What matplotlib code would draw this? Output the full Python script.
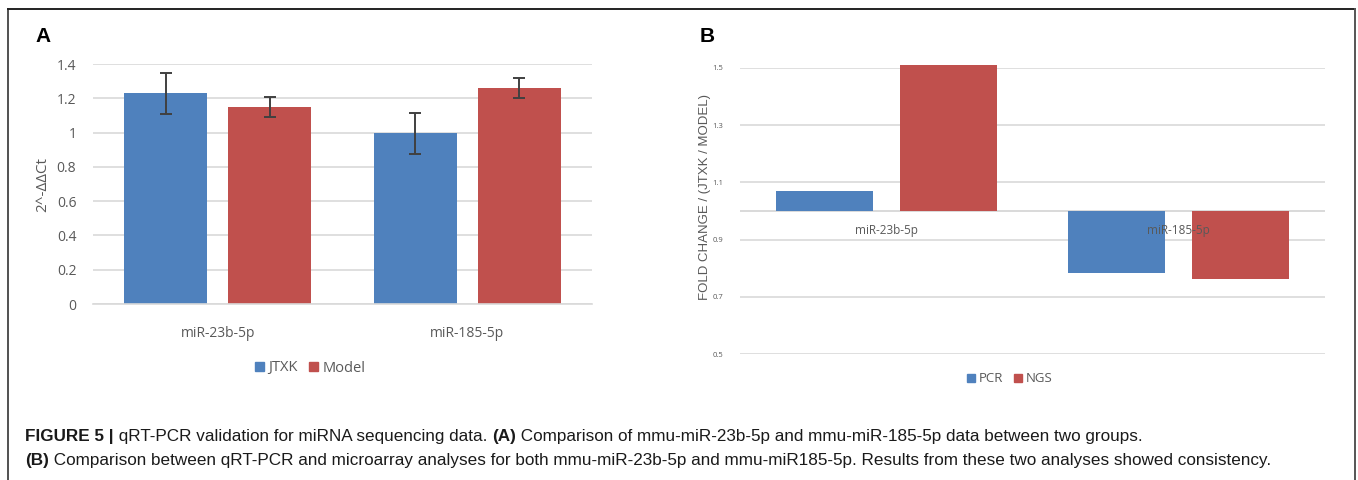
import matplotlib
matplotlib.use("Agg")
import matplotlib.pyplot as plt
from matplotlib.patches import Patch
from matplotlib.lines import Line2D
import numpy as np

# данные
mirnas = ["miR-23b-5p", "miR-185-5p"]
jtxk = [1.23, 0.995]
jtxk_err = [0.12, 0.12]
model = [1.15, 1.26]
model_err = [0.06, 0.06]
a_ticks = [0, 0.2, 0.4, 0.6, 0.8, 1, 1.2, 1.4]
a_ticklabels = ["0", "0.2", "0.4", "0.6", "0.8", "1", "1.2", "1.4"]

pcr = [1.07, 0.785]
ngs = [1.51, 0.761]
b_ticks = [0.5, 0.7, 0.9, 1.1, 1.3, 1.5]

BLUE = "#4F81BD"
RED = "#C0504D"
GRID = "#D9D9D9"
TXT = "#595959"

plt.rcParams["font.family"] = ["Open Sans", "DejaVu Sans"]

fig = plt.figure(figsize=(13.58, 4.8), dpi=100)

x = np.arange(len(mirnas))

# ---- панель A
ax = fig.add_axes([93 / 1358, 1 - 304 / 480, 499 / 1358, 240 / 480])
ax.bar(x - 0.208, jtxk, 0.332, color=BLUE, zorder=2)
ax.bar(x + 0.208, model, 0.332, color=RED, zorder=2)
ax.errorbar(x - 0.208, jtxk, yerr=jtxk_err, fmt="none", ecolor="#404040",
            elinewidth=1.4, capsize=4, capthick=1.4, zorder=3)
ax.errorbar(x + 0.208, model, yerr=model_err, fmt="none", ecolor="#404040",
            elinewidth=1.4, capsize=4, capthick=1.4, zorder=3)
ax.set_xlim(-0.5, 1.5)
ax.set_ylim(0, 1.4)
ax.set_yticks(a_ticks)
ax.set_yticklabels(a_ticklabels)
ax.yaxis.grid(True, color=GRID, linewidth=1.2, zorder=0)
ax.set_axisbelow(True)
for s in ["top", "right", "left"]:
    ax.spines[s].set_visible(False)
ax.spines["bottom"].set_color(GRID)
ax.spines["bottom"].set_linewidth(1.2)
ax.set_xticks(x)
ax.set_xticklabels(mirnas)
ax.tick_params(length=0, labelcolor=TXT, labelsize=10)
ax.tick_params(axis="x", pad=16)
ax.tick_params(axis="y", pad=12)
ax.set_ylabel("2^-ΔΔCt", color=TXT, fontsize=11, labelpad=5)
fig.text(35 / 1358, 1 - 36 / 480, "A", fontsize=15, fontweight="bold",
         family=["Liberation Sans", "DejaVu Sans"], va="center", ha="left")
fig.legend(handles=[Patch(color=BLUE, label="JTXK"), Patch(color=RED, label="Model")],
           loc="center", bbox_to_anchor=(310 / 1358, 1 - 368 / 480), ncol=2,
           frameon=False, handlelength=0.6, handleheight=0.6, handletextpad=0.3,
           columnspacing=0.8, labelcolor=TXT, fontsize=10.5)

# ---- панель B
bx = fig.add_axes([740 / 1358, 1 - 354.3 / 480, 585 / 1358, 286.6 / 480])
bx.bar(x - 0.212, np.array(pcr) - 1, 0.33, bottom=1, color=BLUE, zorder=2, clip_on=False)
bx.bar(x + 0.212, np.array(ngs) - 1, 0.33, bottom=1, color=RED, zorder=2, clip_on=False)
bx.set_xlim(-0.5, 1.5)
bx.set_ylim(0.5, 1.5)
bx.set_yticks(b_ticks)
bx.set_yticklabels([f"{t:.1f}" for t in b_ticks])
bx.yaxis.grid(True, color=GRID, linewidth=1.2, zorder=0)
bx.axhline(1.0, color=GRID, linewidth=1.4, zorder=1)
bx.set_axisbelow(True)
for s in bx.spines.values():
    s.set_visible(False)
bx.set_xticks([])
bx.tick_params(length=0, labelcolor=TXT, labelsize=5.5, pad=12)
bx.set_ylabel("FOLD CHANGE / (JTXK / MODEL)", color=TXT, fontsize=9.5,
              family=["Liberation Sans", "DejaVu Sans"])
bx.yaxis.set_label_coords(-0.05, 0.55)
for i, name in enumerate(mirnas):
    bx.text(x[i], 0.933, name, ha="center", va="center", color=TXT,
            fontsize=8.5, zorder=4)
fig.text(700 / 1358, 1 - 36 / 480, "B", fontsize=15, fontweight="bold",
         family=["Liberation Sans", "DejaVu Sans"], va="center", ha="left")
fig.legend(handles=[Patch(color=BLUE, label="PCR"), Patch(color=RED, label="NGS")],
           loc="center", bbox_to_anchor=(1010 / 1358, 1 - 379 / 480), ncol=2,
           frameon=False, handlelength=0.6, handleheight=0.6, handletextpad=0.3,
           columnspacing=0.8, labelcolor=TXT, fontsize=9.5)

# рамка
W, H = 1358, 480
fig.add_artist(Line2D([8 / W, 8 / W], [0, 1 - 9 / H], color="#333333", lw=1.2))
fig.add_artist(Line2D([8 / W, 1355 / W], [1 - 9 / H, 1 - 9 / H], color="#222222", lw=1.4))
fig.add_artist(Line2D([1355 / W, 1355 / W], [0, 1 - 9 / H], color="#555555", lw=1.4))

# подпись к рисунку (куски жирного и обычного текста)
cap_font = ["Liberation Sans", "DejaVu Sans"]
lines = [
    [("FIGURE 5 |", "bold"), (" qRT-PCR validation for miRNA sequencing data. ", "normal"),
     ("(A)", "bold"), (" Comparison of mmu-miR-23b-5p and mmu-miR-185-5p data between two groups.", "normal")],
    [("(B)", "bold"), (" Comparison between qRT-PCR and microarray analyses for both mmu-miR-23b-5p and "
                       "mmu-miR185-5p. Results from these two analyses showed consistency.", "normal")],
]
fig.canvas.draw()
r = fig.canvas.get_renderer()
for ln, ypix in zip(lines, [437, 461]):
    xpos = 25 / W
    for txt, wt in ln:
        t = fig.text(xpos, 1 - ypix / H, txt, fontsize=12.3, fontweight=wt,
                     family=cap_font, va="center", ha="left", color="#1a1a1a")
        bb = t.get_window_extent(renderer=r)
        xpos += bb.width / W

fig.savefig("out.png", dpi=100)
